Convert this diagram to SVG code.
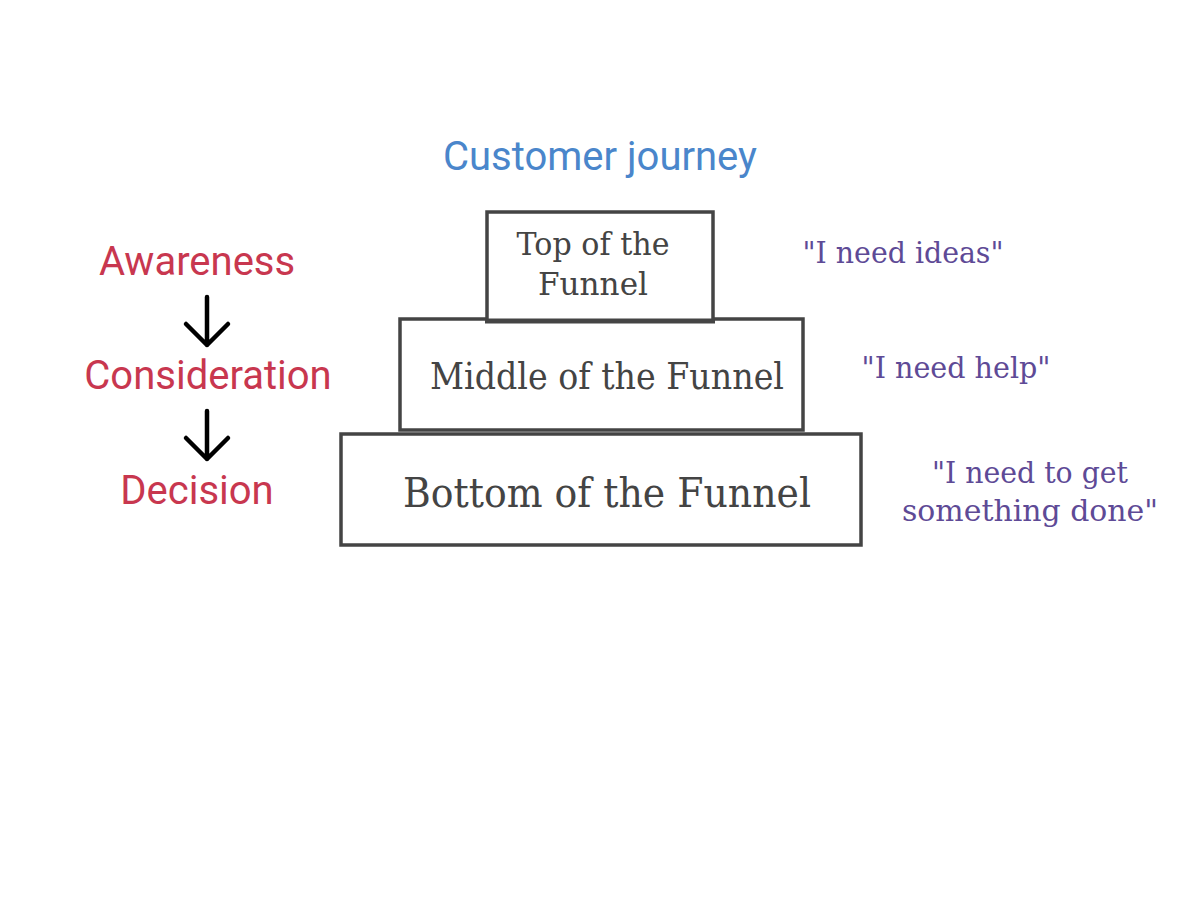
<svg xmlns="http://www.w3.org/2000/svg" width="1200" height="900" viewBox="0 0 1200 900">
<style>
.sans{font-family:Roboto,"Liberation Sans",sans-serif}
.slab{font-family:"DejaVu Serif","Liberation Serif",serif}
.stage{fill:#c8374f;font-size:40px;text-anchor:middle}
.box{fill:#fff;stroke:#444;stroke-width:3.5}
.boxtxt{fill:#444;text-anchor:middle}
.quote{fill:#5e4a96;font-size:30px;text-anchor:middle}
.arrow{fill:none;stroke:#000;stroke-width:4.5;stroke-linecap:round;stroke-linejoin:round}
</style>
<rect width="1200" height="900" fill="#fff"/>
<text class="sans" x="600" y="170" font-size="40" fill="#4a86cb" text-anchor="middle">Customer journey</text>
<g id="awareness"><text class="sans stage" x="197" y="275">Awareness</text></g>
<g id="consideration"><text class="sans stage" x="208" y="389">Consideration</text></g>
<g id="decision"><text class="sans stage" x="197" y="504">Decision</text></g>
<g id="connectors">
<path class="arrow" d="M207 297 V345 M186 324 L207 345 L228 324"/>
<path class="arrow" d="M207 411 V459 M186 438 L207 459 L228 438"/>
</g>
<g id="bottom">
<rect class="box" x="341" y="434" width="520" height="111"/>
<text class="slab boxtxt" x="607" y="507" font-size="41" textLength="408" lengthAdjust="spacingAndGlyphs">Bottom of the Funnel</text>
</g>
<g id="middle">
<rect class="box" x="400" y="319" width="403" height="111"/>
<text class="slab boxtxt" x="607" y="389" font-size="37" textLength="354" lengthAdjust="spacingAndGlyphs">Middle of the Funnel</text>
</g>
<g id="top">
<rect class="box" x="487" y="212" width="226" height="109"/>
<line x1="485" y1="321" x2="715" y2="321" stroke="#444" stroke-width="5"/>
<text class="slab boxtxt" x="593" y="255" font-size="31" textLength="153" lengthAdjust="spacingAndGlyphs">Top of the</text>
<text class="slab boxtxt" x="593" y="295" font-size="31" textLength="110" lengthAdjust="spacingAndGlyphs">Funnel</text>
</g>
<g id="quote-top"><text class="slab quote" x="903" y="263" textLength="201" lengthAdjust="spacingAndGlyphs">"I need ideas"</text></g>
<g id="quote-middle"><text class="slab quote" x="956" y="378" textLength="189" lengthAdjust="spacingAndGlyphs">"I need help"</text></g>
<g id="quote-bottom">
<text class="slab quote" x="1030" y="483" textLength="196" lengthAdjust="spacingAndGlyphs">"I need to get</text>
<text class="slab quote" x="1030" y="521" textLength="256" lengthAdjust="spacingAndGlyphs">something done"</text>
</g>
</svg>
